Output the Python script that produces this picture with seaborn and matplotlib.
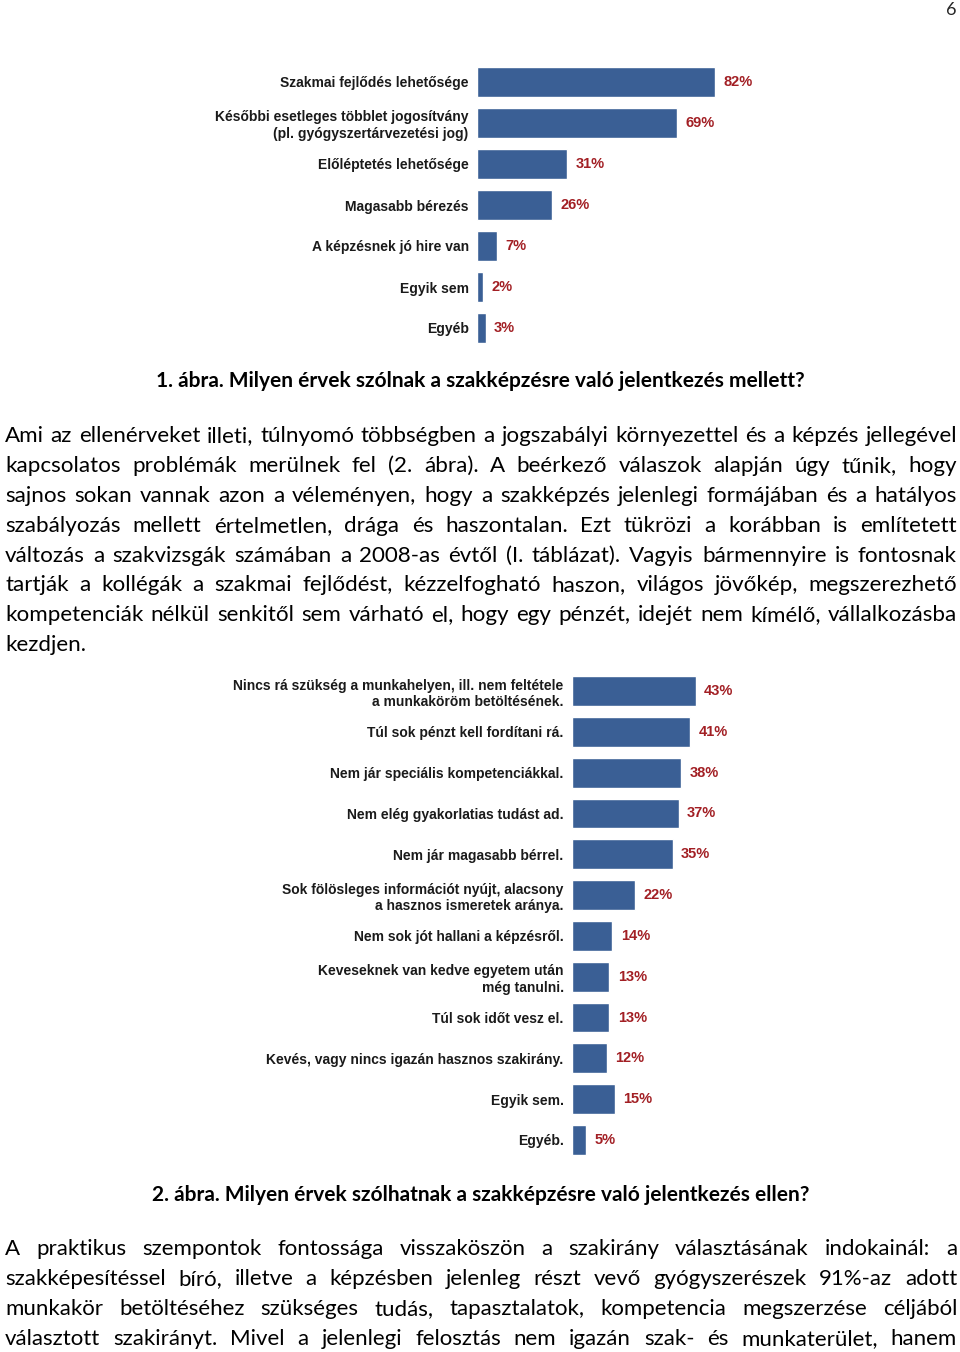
import matplotlib
matplotlib.use("Agg")
import matplotlib.pyplot as plt
from matplotlib.transforms import IdentityTransform
import seaborn as sns

# adatok - 1. ábra
pro_labels = ['Szakmai fejlődés lehetősége',
              'Későbbi esetleges többlet jogosítvány\n(pl. gyógyszertárvezetési jog)',
              'Előléptetés lehetősége',
              'Magasabb bérezés',
              'A képzésnek jó hire van',
              'Egyik sem',
              'Egyéb']
pro_values = [82, 69, 31, 26, 7, 2, 3]

# adatok - 2. ábra
contra_labels = ['Nincs rá szükség a munkahelyen, ill. nem feltétele\na munkaköröm betöltésének.',
                 'Túl sok pénzt kell fordítani rá.',
                 'Nem jár speciális kompetenciákkal.',
                 'Nem elég gyakorlatias tudást ad.',
                 'Nem jár magasabb bérrel.',
                 'Sok fölösleges információt nyújt, alacsony\na hasznos ismeretek aránya.',
                 'Nem sok jót hallani a képzésről.',
                 'Keveseknek van kedve egyetem után\nmég tanulni.',
                 'Túl sok időt vesz el.',
                 'Kevés, vagy nincs igazán hasznos szakirány.',
                 'Egyik sem.',
                 'Egyéb.']
contra_values = [43, 41, 38, 37, 35, 22, 14, 13, 13, 12, 15, 5]

caption1 = '1. ábra. Milyen érvek szólnak a szakképzésre való jelentkezés mellett?'
caption2 = '2. ábra. Milyen érvek szólhatnak a szakképzésre való jelentkezés ellen?'

para1 = [
    'Ami az ellenérveket illeti, túlnyomó többségben a jogszabályi környezettel és a képzés jellegével',
    'kapcsolatos problémák merülnek fel (2. ábra). A beérkező válaszok alapján úgy tűnik, hogy',
    'sajnos sokan vannak azon a véleményen, hogy a szakképzés jelenlegi formájában és a hatályos',
    'szabályozás mellett értelmetlen, drága és haszontalan. Ezt tükrözi a korábban is említetett',
    'változás a szakvizsgák számában a 2008-as évtől (I. táblázat). Vagyis bármennyire is fontosnak',
    'tartják a kollégák a szakmai fejlődést, kézzelfogható haszon, világos jövőkép, megszerezhető',
    'kompetenciák nélkül senkitől sem várható el, hogy egy pénzét, idejét nem kímélő, vállalkozásba',
    'kezdjen.',
]
para2 = [
    'A praktikus szempontok fontossága visszaköszön a szakirány választásának indokainál: a',
    'szakképesítéssel bíró, illetve a képzésben jelenleg részt vevő gyógyszerészek 91%-az adott',
    'munkakör betöltéséhez szükséges tudás, tapasztalatok, kompetencia megszerzése céljából',
    'választott szakirányt. Mivel a jelenlegi felosztás nem igazán szak- és munkaterület, hanem',
]

BAR = '#3a5f95'
VAL = '#a21f24'
TXT = '#1a1a1a'
W, H = 960, 1352

sns.set_theme(style='white')
plt.rcParams['font.family'] = ['Liberation Sans', 'DejaVu Sans']

fig = plt.figure(figsize=(W / 100, H / 100), dpi=100)
fig.patch.set_facecolor('white')
renderer = fig.canvas.get_renderer()


def add_chart(left, top, bottom, px_per_pct, labels, values):
    width = 100 * px_per_pct
    ax = fig.add_axes([left / W, (H - bottom) / H, width / W, (bottom - top) / H])
    sns.barplot(x=values, y=labels, orient='h', color=BAR, saturation=1,
                width=0.73, ax=ax)
    ax.set_xlim(0, 100)
    ax.set_xticks([])
    ax.set_xlabel('')
    ax.set_ylabel('')
    for s in ax.spines.values():
        s.set_visible(False)
    ax.tick_params(axis='y', length=0, pad=6)
    for t in ax.get_yticklabels():
        t.set_fontsize(10)
        t.set_fontweight('bold')
        t.set_color(TXT)
        t.set_multialignment('right')
        t.set_linespacing(1.22)
    ax.bar_label(ax.containers[0], labels=[f'{v}%' for v in values],
                 padding=6, color=VAL, fontweight='bold', fontsize=10.5)
    ax.set_facecolor('none')
    return ax


add_chart(477, 61.5, 348.5, 2.9, pro_labels, pro_values)
add_chart(572, 670.6, 1160.4, 2.88, contra_labels, contra_values)


def word_width(word, **kw):
    t = fig.text(0, 0, word, **kw)
    w = t.get_window_extent(renderer).width
    t.remove()
    return w


def fit_size(lines, x0, x1, family, cap):
    # largest size where the tightest justified line still fits
    widest = max(word_width(l, family=family, fontsize=10) for l in lines)
    return min(cap, 10 * 0.985 * (x1 - x0) / widest)


def justify(lines, baselines, x0, x1, last_left=True, **kw):
    space = word_width('a a', **kw) - word_width('aa', **kw)
    for i, (line, yb) in enumerate(zip(lines, baselines)):
        words = line.split(' ')
        widths = [word_width(w, **kw) for w in words]
        last = last_left and i == len(lines) - 1
        if last or len(words) == 1:
            gap = space
        else:
            gap = (x1 - x0 - sum(widths)) / (len(words) - 1)
        x = x0
        for w, ww in zip(words, widths):
            fig.text(x, H - yb, w, transform=IdentityTransform(),
                     ha='left', va='baseline', **kw)
            x += ww + gap


fam = ['Lato', 'DejaVu Sans']
size1 = fit_size(para1[:-1], 5, 957, fam, 16.5)
size2 = fit_size(para2, 5, 957, fam, 16)

fig.text(951, H - 15, '6', transform=IdentityTransform(), ha='center',
         va='baseline', family=fam, fontsize=13)

fig.text(480, H - 387, caption1, transform=IdentityTransform(), ha='center',
         va='baseline', family=fam, fontweight='bold', fontsize=15,
         color='black')
justify(para1, [442, 472, 502, 532, 562, 591, 621, 651], 5, 957,
        family=fam, fontsize=size1, color='black')

fig.text(481, H - 1201, caption2, transform=IdentityTransform(), ha='center',
         va='baseline', family=fam, fontweight='bold', fontsize=15,
         color='black')
justify(para2, [1255, 1285, 1315, 1345], 5, 957, last_left=False,
        family=fam, fontsize=size2, color='black')

fig.savefig('out.png', dpi=100, facecolor='white')
plt.close(fig)
